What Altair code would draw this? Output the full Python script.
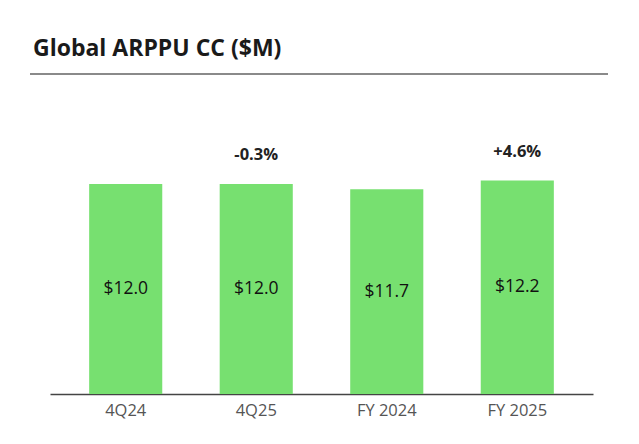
import altair as alt
import pandas as pd

categories = ["4Q24", "4Q25", "FY 2024", "FY 2025"]
values = [12.0, 12.0, 11.7, 12.2]
value_labels = ["$12.0", "$12.0", "$11.7", "$12.2"]
change_labels = ["", "-0.3%", "", "+4.6%"]
title_text = "Global ARPPU CC ($M)"

df = pd.DataFrame({
    "cat": categories,
    "val": values,
    "half": [v / 2 for v in values],
    "vlab": value_labels,
    "clab": change_labels,
})

W, H = 543, 320
YMAX = H / 17.5

x = alt.X("cat:N", sort=categories, title=None,
          scale=alt.Scale(paddingInner=0.44, paddingOuter=0.30),
          axis=alt.Axis(labelAngle=0, ticks=False, domainColor="#444444", domainWidth=1.5,
                        labelColor="#555555", labelFontSize=16.5, labelFont="Open Sans",
                        labelPadding=8, grid=False))
yscale = alt.Scale(domain=[0, YMAX], nice=False, zero=True)

base = alt.Chart(df)

bars = base.mark_bar(color="#77E070").encode(
    x=x,
    y=alt.Y("val:Q", scale=yscale, axis=None),
)

vtext = base.mark_text(fontSize=17.5, font="Open Sans", fontWeight=500, color="#111111",
                       baseline="middle").encode(
    x=alt.X("cat:N", sort=categories),
    y=alt.Y("half:Q", scale=yscale),
    text="vlab:N",
)

ctext = base.mark_text(fontSize=16.5, font="Open Sans", fontWeight="bold", color="#222222",
                       baseline="middle", dy=-29).encode(
    x=alt.X("cat:N", sort=categories),
    y=alt.Y("val:Q", scale=yscale),
    text="clab:N",
)

title = alt.Chart(pd.DataFrame({"t": [title_text]})).mark_text(
    fontSize=23, font="Open Sans", fontWeight="bold", color="#1a1a1a",
    align="left", baseline="alphabetic").encode(
    x=alt.value(-17), y=alt.value(-18), text="t:N")

rule = alt.Chart(pd.DataFrame({"a": [0]})).mark_rule(color="#8a8a8a", strokeWidth=1.8).encode(
    x=alt.value(-20), x2=alt.value(558), y=alt.value(0))

chart = alt.layer(bars, vtext, ctext, title, rule).properties(
    width=W, height=H,
    background="white",
    padding={"left": 42, "top": 66, "right": 30, "bottom": 40},
    autosize=alt.AutoSizeParams(type="none"),
).configure_view(strokeWidth=0)

chart.save("out.html", embed_options={"renderer": "svg", "actions": False})
